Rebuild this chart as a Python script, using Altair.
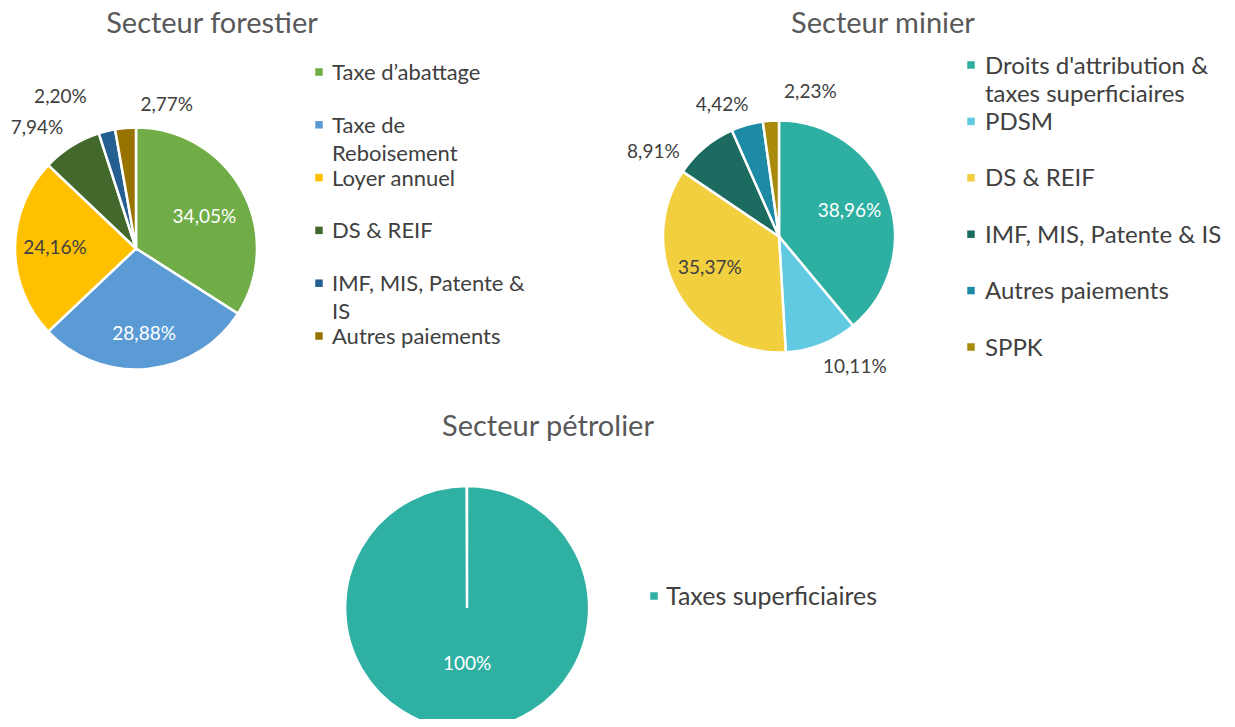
import altair as alt
import pandas as pd

# ---------------- data ----------------
forest_title = "Secteur forestier"
forest_cats = ["Taxe d’abattage", "Taxe de Reboisement", "Loyer annuel", "DS & REIF",
               "IMF, MIS, Patente & IS", "Autres paiements"]
forest_legend = ["Taxe d’abattage", "Taxe de\nReboisement", "Loyer annuel", "DS & REIF",
                 "IMF, MIS, Patente &\nIS", "Autres paiements"]
forest_vals = [34.05, 28.88, 24.16, 7.94, 2.20, 2.77]

mine_title = "Secteur minier"
mine_cats = ["Droits d'attribution & taxes superficiaires", "PDSM", "DS & REIF",
             "IMF, MIS, Patente & IS", "Autres paiements", "SPPK"]
mine_legend = ["Droits d'attribution &\ntaxes superficiaires", "PDSM", "DS & REIF",
               "IMF, MIS, Patente & IS", "Autres paiements", "SPPK"]
mine_vals = [38.96, 10.11, 35.37, 8.91, 4.42, 2.23]

petro_title = "Secteur pétrolier"
petro_cats = ["Taxes superficiaires"]
petro_legend = ["Taxes superficiaires"]
petro_vals = [100]

# ---------------- styles ----------------
forest_colors = ["#70AD47", "#5B9BD5", "#FFC000", "#43682B", "#255E91", "#997300"]
mine_colors = ["#2DAFA2", "#62C9E3", "#F2CF3E", "#1C6B61", "#1D8AA6", "#A98A0B"]
petro_colors = ["#2EB0A3"]

TXT = "#404040"
TITLE_C = "#595959"
FONT = "Lato"

W, H = 1219, 711


def pct_expr():
    return ("datum.value == 100 ? '100%' : "
            "replace(format(datum.value, '.2f'), '.', ',') + '%'")


def pie(cats, legend, vals, colors, title, cx, cy, r, title_xy, leg_sq_x, leg_tx_x,
        leg_y, labels, leg_size, lab_size, theta_max=6.283185307179586):
    df = pd.DataFrame({"cat": cats, "legend": legend, "value": vals,
                       "order": list(range(len(cats)))})
    base = alt.Chart(df)
    theta = alt.Theta("value:Q", stack=True, scale=alt.Scale(range=[0, theta_max]))
    order = alt.Order("order:Q")
    color = alt.Color("cat:N", scale=alt.Scale(domain=cats, range=colors), legend=None)

    layers = []
    layers.append(
        base.mark_arc(radius=r, stroke="white", strokeWidth=2.5).encode(
            theta=theta, color=color, order=order,
            x=alt.value(cx), y=alt.value(cy))
    )
    for (idx, rad, col, dx, dy) in labels:
        layers.append(
            base.transform_calculate(
                lbl=f"datum.order == {idx} ? ({pct_expr()}) : ''"
            ).mark_text(radius=rad, dx=dx, dy=dy, font=FONT, fontSize=lab_size,
                        color=col, align="center", baseline="middle").encode(
                theta=theta, order=order, text="lbl:N",
                x=alt.value(cx), y=alt.value(cy))
        )
    # legend (drawn as marks)
    ly = alt.Y("cat:N", sort=cats, axis=None,
               scale=alt.Scale(domain=cats, range=leg_y, padding=0))
    layers.append(
        base.mark_square(size=56, opacity=1).encode(
            x=alt.value(leg_sq_x), y=ly, color=color)
    )
    layers.append(
        base.mark_text(align="left", baseline="alphabetic", dy=leg_size * 0.36,
                       lineBreak="\n", lineHeight=28, font=FONT,
                       fontSize=leg_size, color=TXT).encode(
            x=alt.value(leg_tx_x), y=ly, text="legend:N")
    )
    tdf = pd.DataFrame({"t": [title]})
    layers.append(
        alt.Chart(tdf).mark_text(font=FONT, fontSize=29, color=TITLE_C,
                                 align="center", baseline="alphabetic").encode(
            text="t:N", x=alt.value(title_xy[0]), y=alt.value(title_xy[1]))
    )
    return layers


forest_layers = pie(
    forest_cats, forest_legend, forest_vals, forest_colors, forest_title,
    cx=128, cy=240.5, r=121, title_xy=(204, 25), leg_sq_x=311, leg_tx_x=324,
    leg_y=[64, 328],
    labels=[(0, 78, "white", 0, 6), (1, 86, "white", 0, 0), (2, 81, TXT, 0, 0),
            (3, 152, TXT, -18, 8), (4, 152, TXT, -39, -4), (5, 152, TXT, 44, 8)],
    leg_size=22, lab_size=19)

mine_layers = pie(
    mine_cats, mine_legend, mine_vals, mine_colors, mine_title,
    cx=771, cy=228.5, r=116, title_xy=(875, 25), leg_sq_x=963, leg_tx_x=977,
    leg_y=[57, 339],
    labels=[(0, 75, "white", 0, 0), (2, 75, TXT, -4, -6), (1, 152, TXT, 20, -11),
            (3, 152, TXT, -28, 32), (4, 152, TXT, -15, 15), (5, 152, TXT, 42, 7)],
    leg_size=24, lab_size=19)

petro_layers = pie(
    petro_cats, petro_legend, petro_vals, petro_colors, petro_title,
    cx=459, cy=600, r=122, title_xy=(540, 428), leg_sq_x=646, leg_tx_x=658,
    leg_y=[588, 588],
    labels=[(0, 56, "white", 0, 0)],
    leg_size=25, lab_size=19, theta_max=6.28)

chart = alt.layer(*(forest_layers + mine_layers + petro_layers)).resolve_scale(
    theta="independent", color="independent", y="independent"
).properties(
    width=W, height=H, padding=0,
    autosize=alt.AutoSizeParams(type="none")
).configure_view(stroke=None)

chart.save("out.html", embed_options={"renderer": "svg", "actions": False})
